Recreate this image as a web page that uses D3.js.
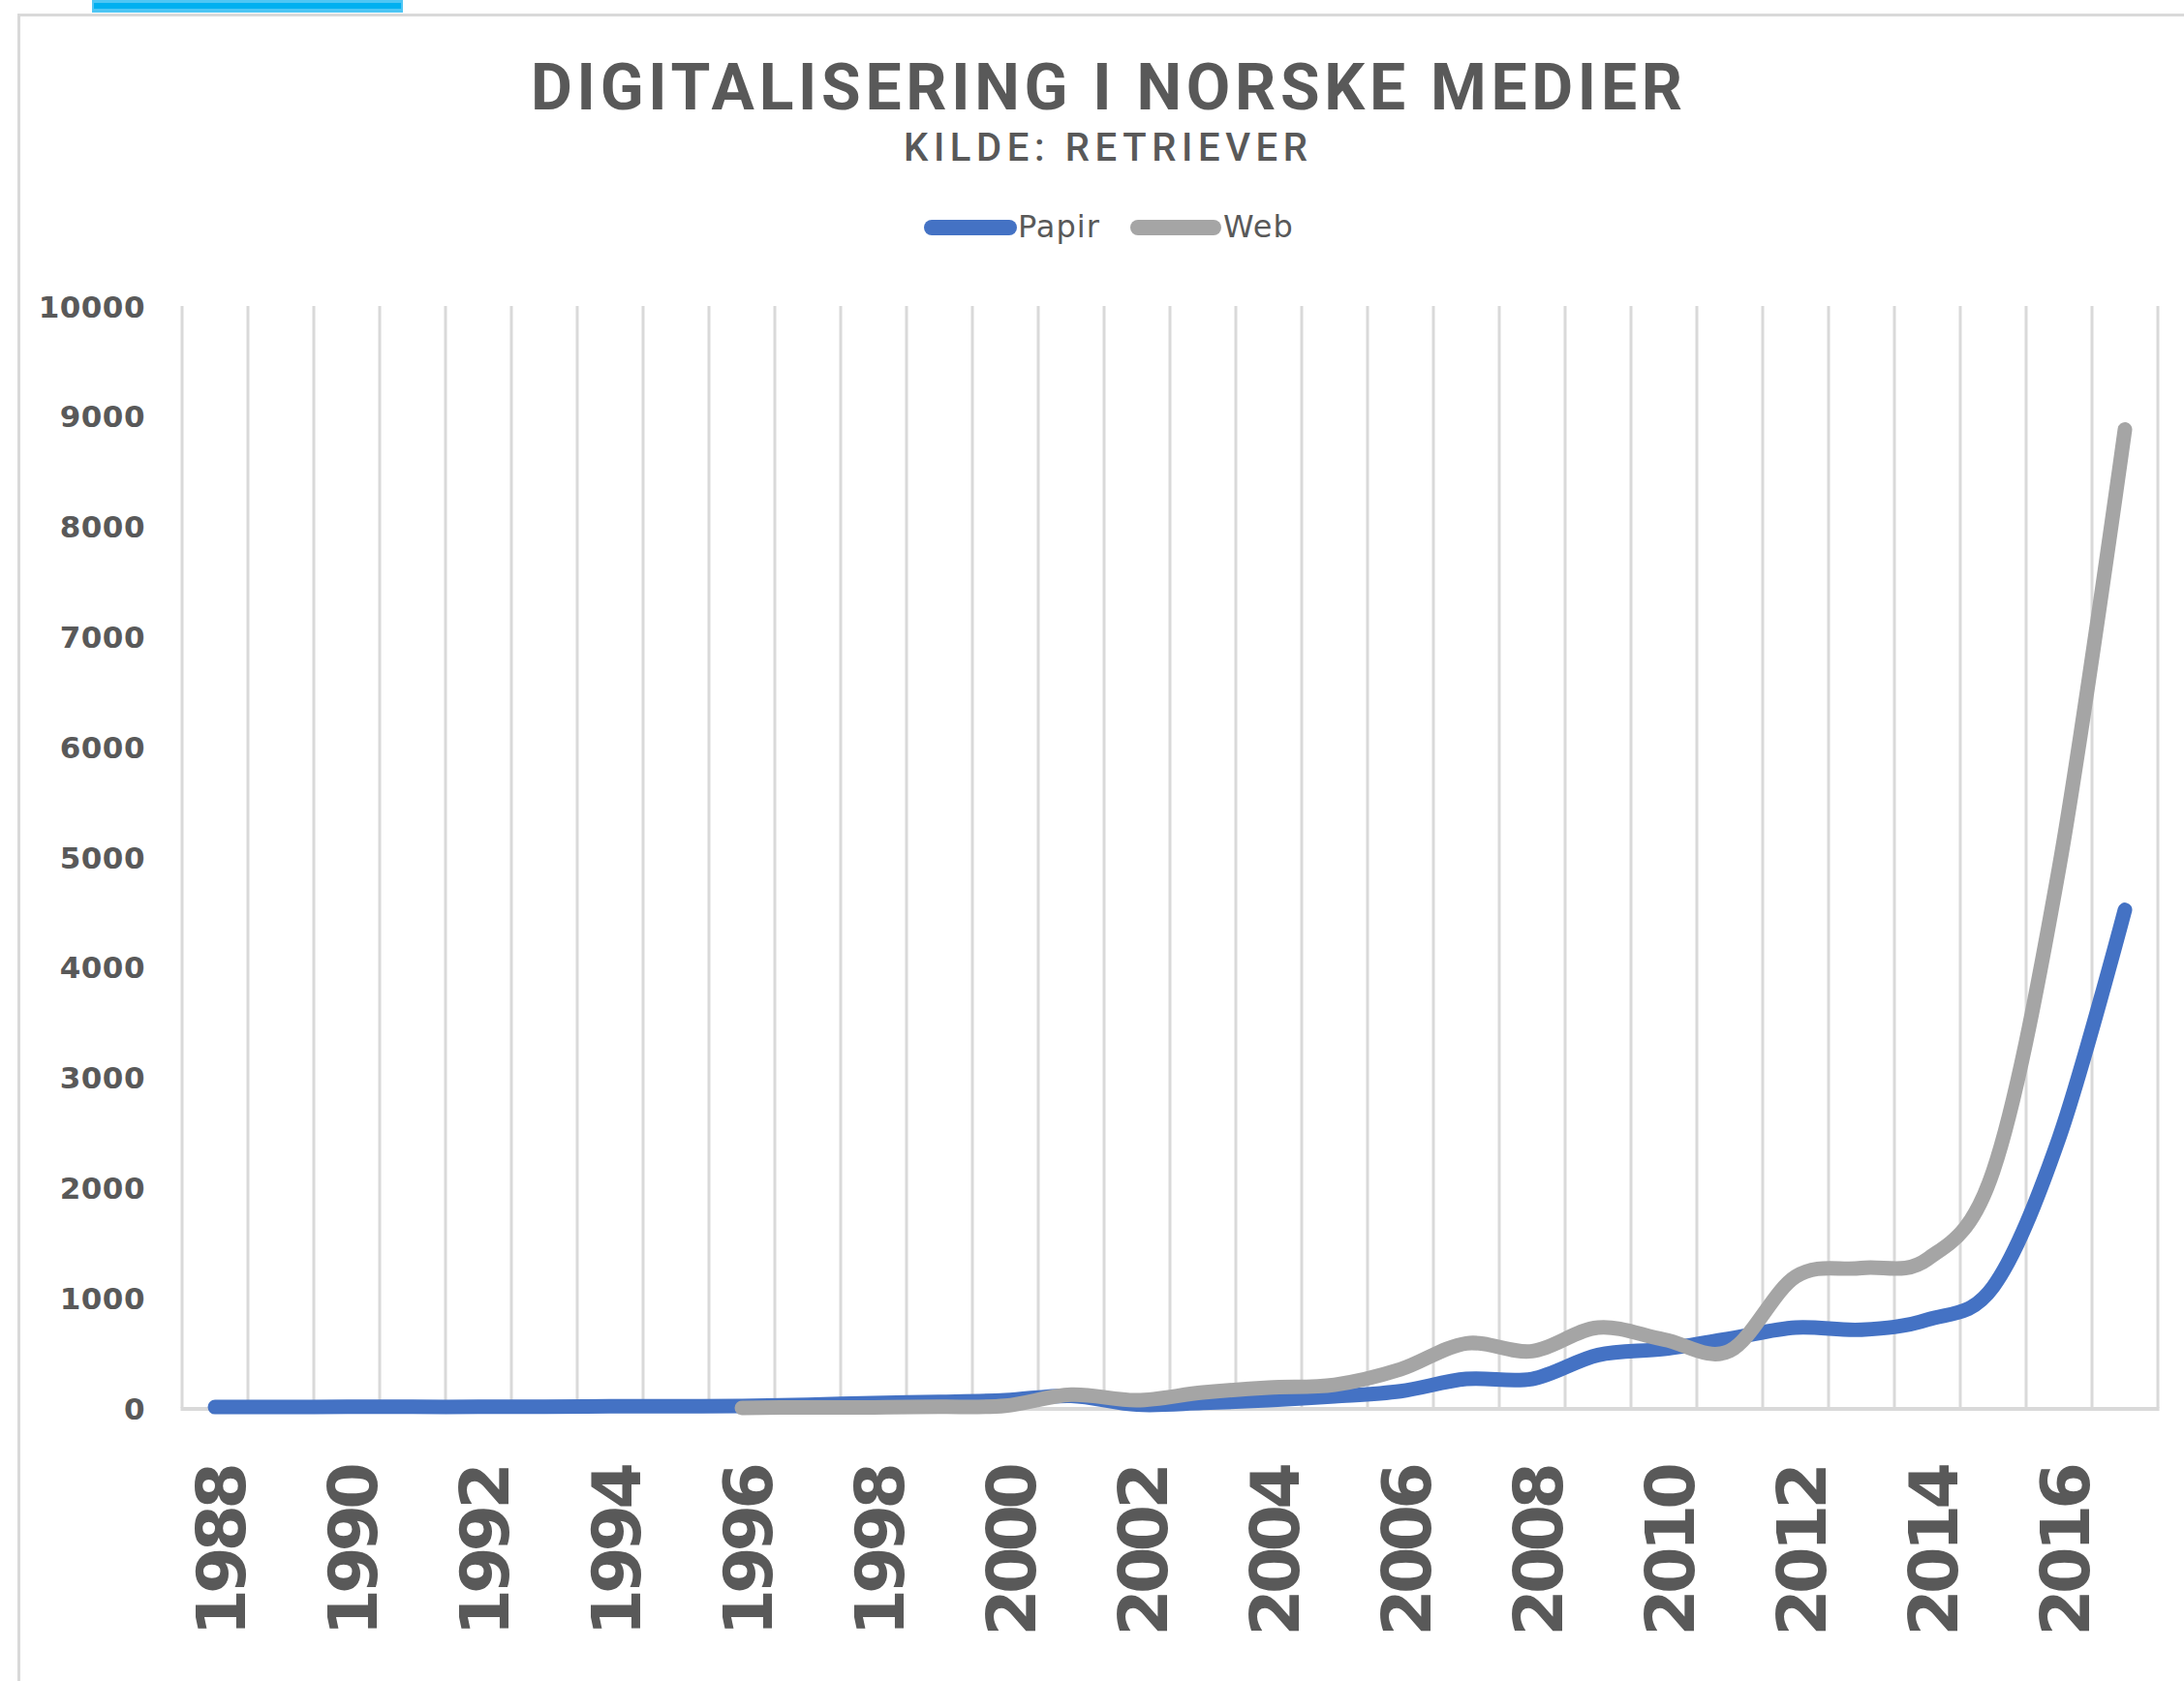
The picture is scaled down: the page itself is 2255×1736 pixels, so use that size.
<!DOCTYPE html>
<html>
<head>
<meta charset="utf-8">
<script src="https://d3js.org/d3.v7.min.js"></script>
<style>
  html, body { margin: 0; padding: 0; background: #ffffff; }
  svg { display: block; }
</style>
</head>
<body>
<svg id="chart" width="2255" height="1736"></svg>
<script>
// ---------------- data ----------------
const years = ["1988","1989","1990","1991","1992","1993","1994","1995","1996","1997",
               "1998","1999","2000","2001","2002","2003","2004","2005","2006","2007",
               "2008","2009","2010","2011","2012","2013","2014","2015","2016","2017"];
const papir = [8, 8, 10, 10, 10, 12, 15, 15, 18, 28,
               45, 55, 70, 110, 30, 45, 70, 105, 152, 263,
               263, 480, 535, 630, 730, 710, 800, 1100, 2450, 4520];
const web   = [null, null, null, null, null, null, null, null, 0, 5,
               5, 10, 20, 120, 70, 140, 185, 210, 350, 586,
               515, 730, 621, 518, 1192, 1270, 1350, 2150, 4900, 8880];
const yTicks = [0, 1000, 2000, 3000, 4000, 5000, 6000, 7000, 8000, 9000, 10000];
const xTickLabels = ["1988","1990","1992","1994","1996","1998","2000","2002",
                     "2004","2006","2008","2010","2012","2014","2016"];
const seriesNames = ["Papir", "Web"];
const seriesColors = ["#4472C4", "#A5A5A5"];
const titleText = "DIGITALISERING I NORSKE MEDIER";
const subtitleText = "KILDE: RETRIEVER";

// ---------------- layout ----------------
const svg = d3.select("#chart");
const W = 2255, H = 1736;
const plot = { left: 188, right: 2228, top: 316, bottom: 1454 };
const textColor = "#595959";
const gridColor = "#d9d9d9";

svg.append("rect").attr("width", W).attr("height", H).attr("fill", "#ffffff");

// decorative tab at top-left
svg.append("rect").attr("x", 95).attr("y", 0).attr("width", 321).attr("height", 13).attr("fill", "#4FC6F4");
svg.append("rect").attr("x", 97).attr("y", 3).attr("width", 317).attr("height", 6).attr("fill", "#00B0F0");

// chart border
svg.append("line").attr("x1", 18).attr("x2", W).attr("y1", 15.5).attr("y2", 15.5)
  .attr("stroke", gridColor).attr("stroke-width", 3);
svg.append("line").attr("x1", 19.5).attr("x2", 19.5).attr("y1", 14).attr("y2", H)
  .attr("stroke", gridColor).attr("stroke-width", 3);

// scales
const x = d3.scaleBand().domain(years).range([plot.left, plot.right]).padding(0);
const y = d3.scaleLinear().domain([0, 10000]).range([plot.bottom, plot.top]);
const bw = x.bandwidth();
const cx = d => x(d) + bw / 2;

// vertical gridlines at category boundaries
const bounds = d3.range(years.length + 1).map(i => plot.left + i * bw);
svg.append("g").selectAll("line").data(bounds).join("line")
  .attr("x1", d => d).attr("x2", d => d)
  .attr("y1", plot.top).attr("y2", plot.bottom)
  .attr("stroke", gridColor).attr("stroke-width", 3);

// category axis line
svg.append("line").attr("x1", plot.left - 1.5).attr("x2", plot.right + 1.5)
  .attr("y1", plot.bottom + 1).attr("y2", plot.bottom + 1)
  .attr("stroke", gridColor).attr("stroke-width", 4);

// y axis labels
const yAxis = d3.axisLeft(y).tickValues(yTicks).tickSize(0).tickPadding(0).tickFormat(d3.format("d"));
const gy = svg.append("g").attr("transform", `translate(150,0)`).call(yAxis);
gy.select(".domain").remove();
gy.selectAll("text")
  .attr("fill", textColor)
  .attr("font-family", "'DejaVu Sans', sans-serif")
  .attr("font-weight", "bold")
  .attr("font-size", 31)
  .attr("letter-spacing", "0.5px")
  .attr("dy", "0.36em");

// x axis labels (rotated)
const xAxis = d3.axisBottom(x).tickValues(xTickLabels).tickSize(0).tickPadding(0);
const gx = svg.append("g").attr("transform", `translate(0,${plot.bottom})`).call(xAxis);
gx.select(".domain").remove();
gx.selectAll(".tick text")
  .attr("fill", textColor)
  .attr("font-family", "'DejaVu Sans', sans-serif")
  .attr("font-weight", "bold")
  .attr("font-size", 70)
  .attr("letter-spacing", "-5px")
  .attr("text-anchor", "end")
  .attr("x", 0).attr("y", 0)
  .attr("dy", "0.36em")
  .attr("transform", "translate(6,61) rotate(-90)");

// lines
const line = d3.line()
  .defined(d => d.v !== null)
  .x(d => cx(d.year))
  .y(d => y(d.v))
  .curve(d3.curveCardinal.tension(0));

const series = [
  years.map((yr, i) => ({ year: yr, v: papir[i] })),
  years.map((yr, i) => ({ year: yr, v: web[i] }))
];
svg.append("g").selectAll("path").data(series).join("path")
  .attr("d", line)
  .attr("fill", "none")
  .attr("stroke", (d, i) => seriesColors[i])
  .attr("stroke-width", 15)
  .attr("stroke-linecap", "round")
  .attr("stroke-linejoin", "round");

// title
svg.append("text")
  .attr("x", 548).attr("y", 113)
  .attr("textLength", 1189).attr("lengthAdjust", "spacing")
  .attr("fill", textColor)
  .attr("font-family", "Roboto, sans-serif")
  .attr("font-weight", 700)
  .attr("font-size", 66)
  .text(titleText);

svg.append("text")
  .attr("x", 933).attr("y", 166)
  .attr("textLength", 417).attr("lengthAdjust", "spacing")
  .attr("fill", textColor)
  .attr("font-family", "Roboto, sans-serif")
  .attr("font-weight", 500)
  .attr("font-size", 40)
  .text(subtitleText);

// legend
const legendItems = [
  { name: seriesNames[0], color: seriesColors[0], x1: 962, x2: 1042, tx: 1051 },
  { name: seriesNames[1], color: seriesColors[1], x1: 1175, x2: 1253, tx: 1263 }
];
const lg = svg.append("g");
lg.selectAll("line").data(legendItems).join("line")
  .attr("x1", d => d.x1).attr("x2", d => d.x2)
  .attr("y1", 235).attr("y2", 235)
  .attr("stroke", d => d.color).attr("stroke-width", 16).attr("stroke-linecap", "round");
lg.selectAll("text").data(legendItems).join("text")
  .attr("x", d => d.tx).attr("y", 245)
  .attr("fill", textColor)
  .attr("font-family", "'DejaVu Sans', sans-serif")
  .attr("font-size", 32)
  .attr("letter-spacing", "1px")
  .text(d => d.name);
</script>
</body>
</html>
